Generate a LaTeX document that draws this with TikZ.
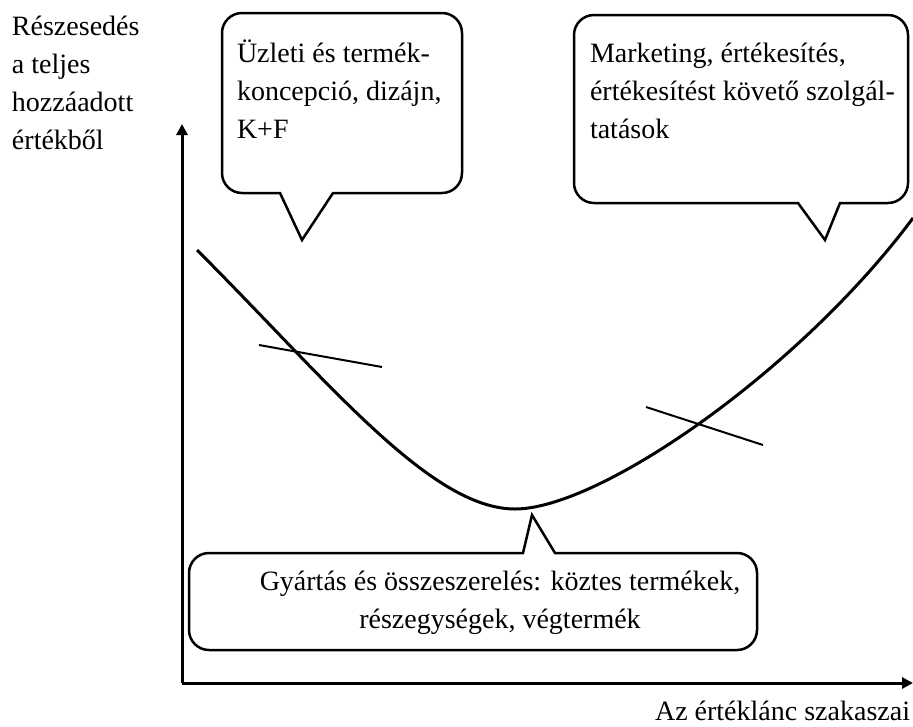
\documentclass[tikz,border=0pt]{standalone}
\usepackage{fontspec}
\setmainfont{Liberation Serif}
\usetikzlibrary{arrows.meta}
\begin{document}
\begin{tikzpicture}[x=1pt,y=-1pt]
\tikzset{
  axis/.style={line width=3pt,-{Triangle[length=11pt,width=11pt]}},
  bubble/.style={line width=2.5pt,line join=miter},
  curve/.style={line width=3pt},
  tangent/.style={line width=2pt},
  txt/.style={inner sep=0pt,outer sep=0pt,align=left,font=\fontsize{28}{38}\selectfont}
}
\path[use as bounding box,fill=white] (0,0) rectangle (913,726);

% axes
\coordinate (origin) at (182,683);
\coordinate (ytip) at (182,124);
\coordinate (xtip) at (913,683);
\draw[axis] (origin) -- (ytip);
\draw[axis] (origin) -- (xtip);

% base anchor sits on the last line
\node[txt,anchor=base west] (ylabel) at (12,149) {Részesedés\\a teljes\\hozzáadott\\értékből};
\node[txt,anchor=base east] (xlabel) at (910,720) {Az értéklánc szakaszai};

% smile curve
\draw[curve] (197,250) .. controls (327,380) and (430,509) .. (515,509)
  .. controls (600,509) and (800,370) .. (913,218);

% tangents
\coordinate (t1a) at (259,345);
\coordinate (t1b) at (382,367);
\coordinate (t2a) at (646,407);
\coordinate (t2b) at (763,445);
\draw[tangent] (t1a) -- (t1b);
\draw[tangent] (t2a) -- (t2b);

% callouts
\draw[bubble] (302,240) -- (333,193) [rounded corners=20pt] -- (462,193) -- (462,13)
  -- (222,13) -- (222,193) [sharp corners] -- (280,193) -- cycle;
\node[txt,anchor=base west] (design) at (237,138)
  {Üzleti és termék-\\koncepció, dizájn,\\K+F};

\draw[bubble] (825,240) -- (840,203) [rounded corners=20pt] -- (908,203) -- (908,15)
  -- (574,15) -- (574,203) [sharp corners] -- (798,203) -- cycle;
\node[txt,anchor=base west] (market) at (590,138)
  {Marketing, értékesítés,\\értékesítést követő szolgál-\\tatások};

\draw[bubble] (532,515) -- (555,553) [rounded corners=20pt] -- (757,553) -- (757,650)
  -- (189,650) -- (189,553) [sharp corners] -- (523,553) -- cycle;
\node[txt,align=center,anchor=base] (assembly) at (500,628)
  {Gyártás és összeszerelés: köztes termékek,\\részegységek, végtermék};
\end{tikzpicture}
\end{document}
